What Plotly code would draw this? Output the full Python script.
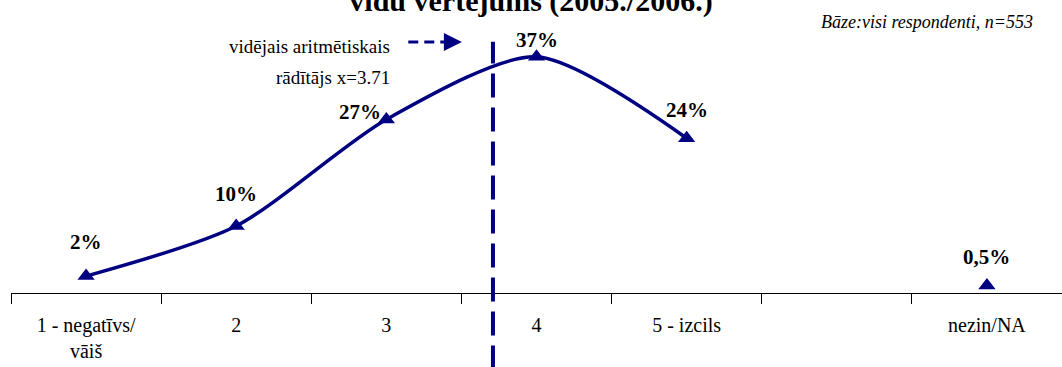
import plotly.graph_objects as go

# Dati
kategorijas = ["1 - negatīvs/<br>vāiš", "2", "3", "4", "5 - izcils", "", "nezin/NA"]
pozicijas = [1, 2, 3, 4, 5, 6, 7]
vertejumi = [2, 10, 27, 37, 24]          # skala 1..5
nezin = 0.5                              # nezin/NA
etiketes = ["2%", "10%", "27%", "37%", "24%"]
nezin_etikete = "0,5%"
videjais = 3.71

NAVY = "#000080"
SERIF = "Liberation Serif, Times New Roman, serif"

fig = go.Figure()

# Galvenā līkne 1..5
fig.add_trace(go.Scatter(
    x=pozicijas[:5], y=vertejumi, mode="lines+markers",
    line=dict(color=NAVY, width=3.5, shape="spline", smoothing=0.75),
    marker=dict(symbol="triangle-up", size=15, color=NAVY),
    showlegend=False, hoverinfo="skip",
))
# nezin/NA atsevišķi
fig.add_trace(go.Scatter(
    x=[pozicijas[6]], y=[nezin], mode="markers",
    marker=dict(symbol="triangle-up", size=15, color=NAVY),
    showlegend=False, hoverinfo="skip",
))

# Datu etiķetes
shifts = [(0, 34), (0, 32), (-26, 7), (0, 17), (0, 28)]
for x, y, t, (dx, dy) in zip(pozicijas[:5], vertejumi, etiketes, shifts):
    fig.add_annotation(x=x, y=y, text="<b>%s</b>" % t, showarrow=False,
                       xshift=dx, yshift=dy, font=dict(family=SERIF, size=21, color="black"))
fig.add_annotation(x=pozicijas[6], y=nezin, text="<b>%s</b>" % nezin_etikete, showarrow=False,
                   yshift=28, font=dict(family=SERIF, size=21, color="black"))

# Vidējā vērtība - vertikāla raustīta līnija
fig.add_shape(type="line", xref="x", yref="paper", x0=videjais, x1=videjais,
              y0=-0.3, y1=0.985, line=dict(color=NAVY, width=4, dash="24px,10px"))

# Paskaidrojums ar bultu
fig.add_shape(type="line", xref="paper", yref="paper", x0=0.378, x1=0.414,
              y0=0.984, y1=0.984, line=dict(color=NAVY, width=3, dash="10px,6px"))
fig.add_annotation(xref="paper", yref="paper", x=0.429, y=0.984, ax=-14, ay=0,
                   text="", showarrow=True, arrowhead=2, arrowsize=1.2,
                   arrowwidth=3, arrowcolor=NAVY)
fig.add_annotation(xref="paper", yref="paper", x=0.3625, y=0.965,
                   xanchor="right", yanchor="middle",
                   text="vidējais aritmētiskais", showarrow=False,
                   font=dict(family=SERIF, size=19, color="black"))
fig.add_annotation(xref="paper", yref="paper", x=0.3625, y=0.847,
                   xanchor="right", yanchor="middle",
                   text="rādītājs x=3.71", showarrow=False,
                   font=dict(family=SERIF, size=19, color="black"))

# Bāze
fig.add_annotation(xref="paper", yref="paper", x=0.974, y=1.063,
                   xanchor="right", yanchor="middle",
                   text="<i>Bāze:visi respondenti, n=553</i>", showarrow=False,
                   font=dict(family=SERIF, size=18, color="black"))

fig.update_layout(
    width=1062, height=367,
    margin=dict(l=11, r=0, t=38, b=74),
    paper_bgcolor="white", plot_bgcolor="white",
    title=dict(text="<b>vidū vērtējums (2005./2006.)</b>", x=0.5, xanchor="center",
               y=1.0, yanchor="middle", yref="container",
               font=dict(family=SERIF, size=30, color="black")),
    xaxis=dict(range=[0.5, 7.5], tickvals=pozicijas, ticktext=kategorijas,
               ticks="outside", ticklen=14, tickcolor="rgba(0,0,0,0)",
               showline=True, linecolor="black", linewidth=1,
               showgrid=False, zeroline=False, automargin=False,
               tickfont=dict(family=SERIF, size=20, color="black"),
               minor=dict(tickvals=[0.5, 1.5, 2.5, 3.5, 4.5, 5.5, 6.5, 7.5],
                          ticks="outside", ticklen=10, tickcolor="black", tickwidth=1)),
    yaxis=dict(range=[-0.7, 40], visible=False),
)

# noņem lapas noklusēto atkāpi, lai attēls sāktos no stūra
fig.write_html("out.html", config={"displayModeBar": False},
               post_script="document.body.style.margin='0';")
